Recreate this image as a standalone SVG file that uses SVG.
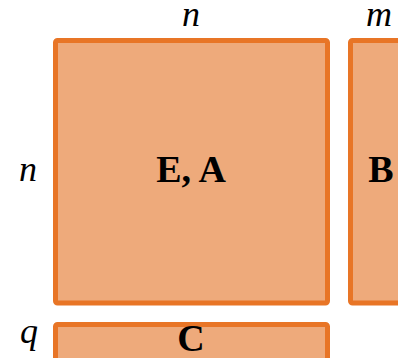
<svg xmlns="http://www.w3.org/2000/svg" width="398" height="358" viewBox="0 0 398 358">
<style>
.blk{fill:#EEAA7B;stroke:#E87526;stroke-width:5}
.it{font-family:"Liberation Serif",serif;font-style:italic;font-size:36px;fill:#000;text-anchor:middle}
.bd{font-family:"Liberation Serif",serif;font-weight:bold;font-size:38px;fill:#000;text-anchor:middle}
</style>
<rect width="398" height="358" fill="#fff"/>
<g id="EA">
<rect class="blk" x="55.5" y="40.5" width="272" height="262.5" rx="2"/>
<text class="bd" x="191" y="182">E, A</text>
</g>
<g id="B">
<rect class="blk" x="350.5" y="40.5" width="80" height="262.5" rx="2"/>
<text class="bd" x="381" y="182">B</text>
</g>
<g id="C">
<rect class="blk" x="55.5" y="324.5" width="272" height="60" rx="2"/>
<text class="bd" x="191" y="351">C</text>
</g>
<g id="labels">
<text class="it" x="191" y="26">n</text>
<text class="it" x="379" y="26">m</text>
<text class="it" x="28" y="181">n</text>
<text class="it" x="29" y="343">q</text>
</g>
<g id="connectors"/>
</svg>
